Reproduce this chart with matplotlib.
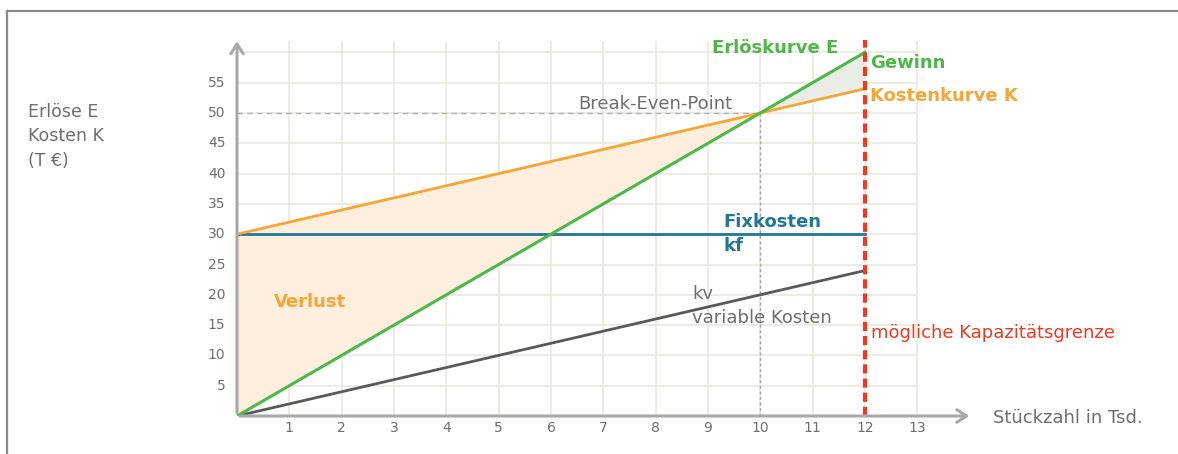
import numpy as np
import matplotlib.pyplot as plt
from matplotlib.lines import Line2D

# Stückzahl in Tsd. und Werte in T €
stueckzahl = [0, 2, 4, 6, 8, 10, 12]
erloese = [0, 10, 20, 30, 40, 50, 60]
fixkosten = [30, 30, 30, 30, 30, 30, 30]
variable_kosten = [0, 4, 8, 12, 16, 20, 24]
gesamtkosten = [30, 34, 38, 42, 46, 50, 54]
break_even = (10, 50)
kapazitaet = 12

y_ticks = [5, 10, 15, 20, 25, 30, 35, 40, 45, 50, 55]
x_ticks = list(range(1, 14))

GREEN = '#4cb848'
ORANGE = '#f7a535'
TEAL = '#1f7896'
DARK = '#595959'
RED = '#f2391f'
GRAY = '#6e6e6e'
GRID = '#ecebe2'
FS = 13

plt.rcParams['font.family'] = ['DejaVu Sans']

fig = plt.figure(figsize=(11.78, 4.54), dpi=100)
ax = fig.add_axes([237 / 1178, 38 / 454, 743 / 1178, 375.7 / 454])
ax.set_xlim(0, 14.2)
ax.set_ylim(0, 62)
ax.axis('off')

# Rahmen oben und links
fig.add_artist(Line2D([7 / 1178, 7 / 1178], [0, 1 - 11 / 454], color='#8a8a8a', lw=1.6))
fig.add_artist(Line2D([7 / 1178, 1], [1 - 11 / 454, 1 - 11 / 454], color='#8a8a8a', lw=1.6))

# Gitter
for gx in range(1, 14):
    ax.plot([gx, gx], [0, 61.8], color=GRID, lw=1.3, zorder=0)
for gy in y_ticks + [60]:
    ax.plot([0, 13], [gy, gy], color=GRID, lw=1.3, zorder=0)

x = np.array(stueckzahl, dtype=float)
e = np.array(erloese, dtype=float)
k = np.array(gesamtkosten, dtype=float)

# Verlust- und Gewinnzone
ax.fill_between(x, e, k, where=x <= break_even[0], color='#fdeede', zorder=1, lw=0)
ax.fill_between(x, e, k, where=x >= break_even[0], color='#e9ede6', zorder=1, lw=0)

# Break-Even-Hilfslinien
ax.plot([0, break_even[0]], [break_even[1]] * 2, color='#b0b0b0', lw=1, ls=(0, (4, 3)), zorder=2)
ax.plot([break_even[0]] * 2, [0, break_even[1]], color='#a0a0a0', lw=1, ls=(0, (2, 2)), zorder=2)

ax.plot(x, fixkosten, color=TEAL, lw=2, zorder=3)
ax.plot(x, variable_kosten, color=DARK, lw=2, zorder=3)
ax.plot(x, gesamtkosten, color=ORANGE, lw=2, zorder=3)
ax.plot(x, erloese, color=GREEN, lw=2.2, zorder=4)

# Kapazitätsgrenze
ax.plot([kapazitaet, kapazitaet], [0, 62], color=RED, lw=3, ls=(0, (2.2, 1.2)), zorder=5, clip_on=False)

# Achsen mit offenen Pfeilspitzen
ax.annotate('', xy=(0, 62.3), xytext=(0, 0),
            arrowprops=dict(arrowstyle='->,head_length=0.7,head_width=0.45', color='#a8a8a8', lw=2.2),
            annotation_clip=False, zorder=6)
ax.annotate('', xy=(14.05, 0), xytext=(0, 0),
            arrowprops=dict(arrowstyle='->,head_length=0.7,head_width=0.45', color='#a8a8a8', lw=2.2),
            annotation_clip=False, zorder=6)

for t in y_ticks:
    ax.text(-0.22, t, str(t), ha='right', va='center', fontsize=10, color=GRAY)
for t in x_ticks:
    ax.text(t, -2.0, str(t), ha='center', va='center', fontsize=10, color=GRAY)

# Beschriftungen
fig.text(28 / 1178, 1 - 103 / 454, 'Erlöse E\nKosten K\n(T €)', ha='left', va='top',
         fontsize=12.5, color=GRAY, linespacing=1.45)
ax.text(11.5, 60.7, 'Erlöskurve E', ha='right', va='center', fontsize=FS, color=GREEN, fontweight='semibold')
ax.text(12.1, 58.2, 'Gewinn', ha='left', va='center', fontsize=FS, color=GREEN, fontweight='semibold')
ax.text(12.1, 52.8, 'Kostenkurve K', ha='left', va='center', fontsize=FS, color=ORANGE, fontweight='semibold')
ax.text(8.0, 51.5, 'Break-Even-Point', ha='center', va='center', fontsize=FS, color=GRAY)
ax.text(9.3, 30.0, 'Fixkosten\nkf', ha='left', va='center', fontsize=FS, color=TEAL,
        fontweight='semibold', linespacing=1.45)
ax.text(1.39, 18.8, 'Verlust', ha='center', va='center', fontsize=FS, color=ORANGE, fontweight='semibold')
ax.text(8.7, 18.1, 'kv\nvariable Kosten', ha='left', va='center', fontsize=FS, color=GRAY, linespacing=1.45)
ax.text(12.12, 13.7, 'mögliche Kapazitätsgrenze', ha='left', va='center', fontsize=FS, color=RED)
ax.text(14.45, -0.33, 'Stückzahl in Tsd.', ha='left', va='center', fontsize=FS, color=GRAY)

fig.savefig('out.png', dpi=100)
